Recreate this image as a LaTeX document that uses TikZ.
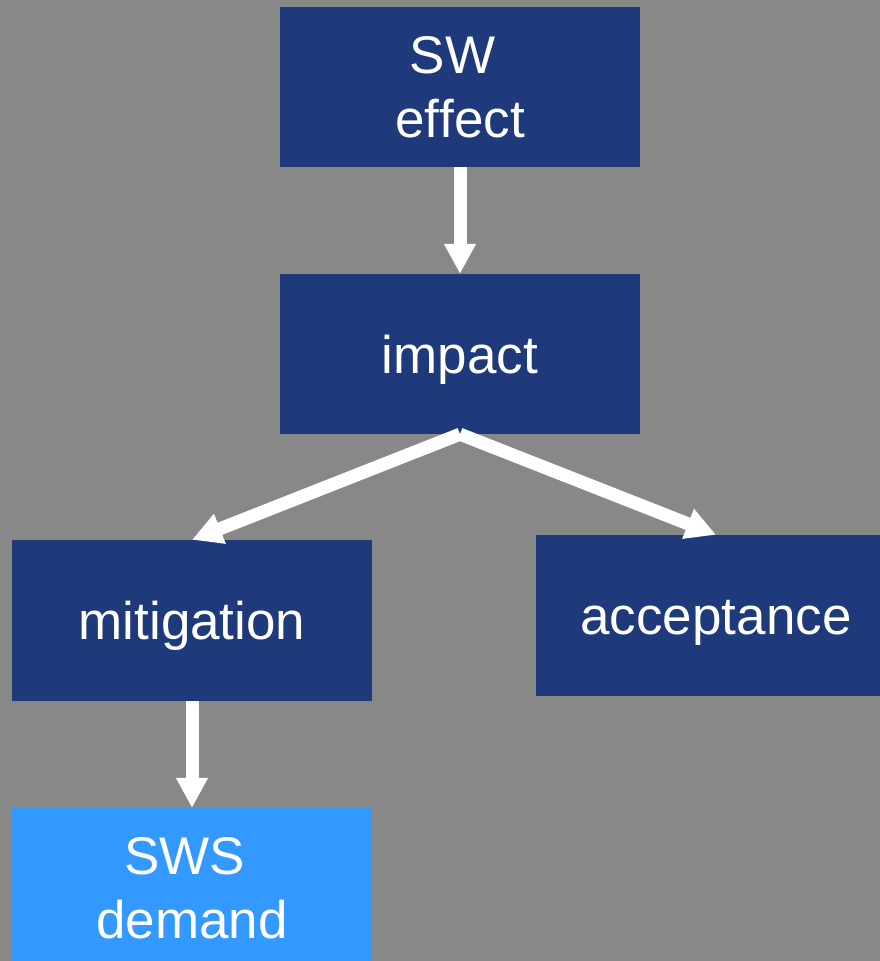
\documentclass[tikz,border=0pt]{standalone}
\usepackage{fontspec}
\setmainfont[Ligatures=NoCommon]{Liberation Sans}
\usetikzlibrary{arrows.meta}
\definecolor{bggray}{HTML}{888888}
\definecolor{boxdark}{HTML}{1E3A7B}
\definecolor{boxlight}{HTML}{3399FF}
\tikzset{
  box/.style={rectangle, fill=boxdark, draw=none, inner sep=0pt,
    minimum width=360pt, minimum height=160pt, text=white, align=center,
    font=\fontsize{53}{64}\selectfont},
  oneline/.style={text height=38pt, text depth=0pt},
  flow/.style={draw=white, line width=13pt,
    -{Triangle[width=30pt,length=30pt]}},
}
\begin{document}
\begin{tikzpicture}[x=1pt,y=-1pt]
  % canvas
  \fill[bggray] (0,0) rectangle (880,961);
  \useasboundingbox (0,0) rectangle (880,961);

  % boxes
  \node[box] (sweffect) at (460,87) {SW\hspace*{0.28em}\\e\mbox{f}\mbox{f}ect};
  \node[box, oneline] (impact) at (460,354) {impact};
  \node[box, oneline, minimum height=161pt] (mitigation) at (192,620.5) {mitigation};
  \node[box, oneline, minimum height=161pt] (acceptance) at (716,615.5) {acceptance};
  \node[box, fill=boxlight] (swsdemand) at (192,888) {SWS\hspace*{0.28em}\\demand};

  % connectors
  \draw[flow] (sweffect.south) -- (impact.north);
  \draw[flow] (impact.south) -- (mitigation.north);
  \draw[flow] (impact.south) -- (acceptance.north);
  \draw[flow] (mitigation.south) -- (swsdemand.north);
\end{tikzpicture}
\end{document}
